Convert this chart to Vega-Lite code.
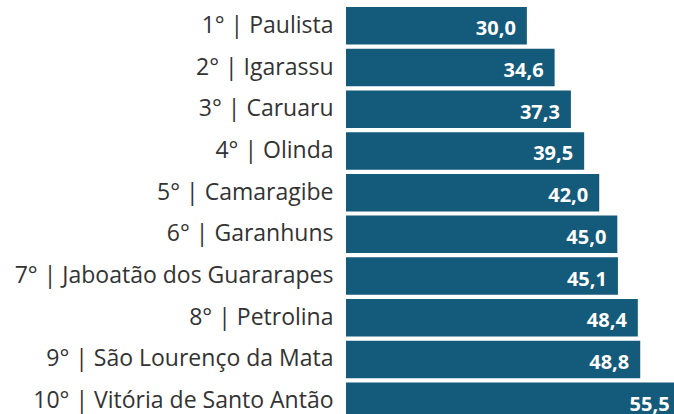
{
  "$schema": "https://vega.github.io/schema/vega-lite/v6.json",
  "width": 328,
  "height": 409,
  "autosize": "none",
  "padding": {"left": 346, "top": 5, "right": 0, "bottom": 0},
  "background": "white",
  "config": {"view": {"stroke": null}},
  "data": {
    "values": [
      {"label": "1° | Paulista", "value": 30.0, "txt": "30,0"},
      {"label": "2° | Igarassu", "value": 34.6, "txt": "34,6"},
      {"label": "3° | Caruaru", "value": 37.3, "txt": "37,3"},
      {"label": "4° | Olinda", "value": 39.5, "txt": "39,5"},
      {"label": "5° | Camaragibe", "value": 42.0, "txt": "42,0"},
      {"label": "6° | Garanhuns", "value": 45.0, "txt": "45,0"},
      {"label": "7° | Jaboatão dos Guararapes", "value": 45.1, "txt": "45,1"},
      {"label": "8° | Petrolina", "value": 48.4, "txt": "48,4"},
      {"label": "9° | São Lourenço da Mata", "value": 48.8, "txt": "48,8"},
      {"label": "10° | Vitória de Santo Antão", "value": 55.5, "txt": "55,5"}
    ]
  },
  "encoding": {
    "y": {
      "field": "label",
      "type": "nominal",
      "sort": null,
      "scale": {"range": [0, 417], "paddingInner": 0.1, "paddingOuter": 0.05},
      "axis": {
        "title": null,
        "domain": false,
        "ticks": false,
        "labelFontSize": 23,
        "labelFont": "Open Sans",
        "labelColor": "#333333",
        "labelPadding": 13,
        "labelLimit": 400
      }
    },
    "x": {
      "field": "value",
      "type": "quantitative",
      "scale": {"domain": [0, 54.4], "nice": false},
      "axis": null
    }
  },
  "layer": [
    {"mark": {"type": "bar", "color": "#145a7a", "clip": true}},
    {
      "mark": {
        "type": "text",
        "align": "right",
        "baseline": "alphabetic",
        "dx": -11,
        "dy": 9.5,
        "color": "white",
        "fontWeight": "bold",
        "fontSize": 20,
        "font": "Open Sans"
      },
      "encoding": {"text": {"field": "txt"}}
    }
  ]
}
